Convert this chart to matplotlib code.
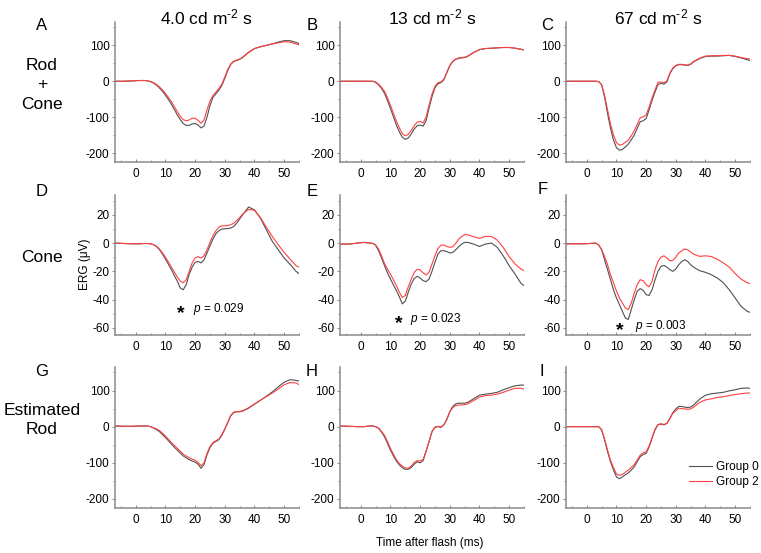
"""ERG waveforms, Group 0 vs Group 2, three flash strengths x three response types."""
import matplotlib

matplotlib.use("Agg")
import matplotlib.pyplot as plt
from matplotlib.ticker import MultipleLocator

plt.rcParams["font.family"] = ["Liberation Sans", "DejaVu Sans"]
plt.rcParams["axes.unicode_minus"] = False
plt.rcParams["mathtext.fontset"] = "custom"
plt.rcParams["mathtext.rm"] = "Liberation Sans"
plt.rcParams["mathtext.it"] = "Liberation Sans:italic"
plt.rcParams["mathtext.bf"] = "Liberation Sans:bold"

# time after flash (ms)
T = [-7, -4, -1, 1, 3, 4, 5, 6, 7, 8, 9, 10, 11, 12, 13, 14, 15, 16, 17, 18, 19, 20,
     21, 22, 23, 24, 25, 26, 27, 28, 29, 30, 31, 32, 33, 34, 35, 36, 38, 40, 42, 44,
     46, 48, 50, 52, 54, 55]

COLUMN_TITLES = ["4.0 cd m$^{\\text{-2}}$ s", "13 cd m$^{\\text{-2}}$ s", "67 cd m$^{\\text{-2}}$ s"]
ROW_LABELS = ["Rod\n+\nCone", "Cone", "Estimated\nRod"]
PANEL_LETTERS = ["A", "B", "C", "D", "E", "F", "G", "H", "I"]
GROUPS = ["Group 0", "Group 2"]

# Rod + Cone (uV)
A_G0 = [0, 0, 1, 2, 2, 1, -1, -5, -11, -19, -28, -39, -51, -64, -79, -94, -107, -118, -123, -123,
        -119, -118, -122, -130, -125, -100, -68, -45, -35, -25, -12, 8, 30, 47, 55, 58, 61, 66,
        80, 91, 96, 100, 104, 109, 113, 113, 108, 105]
A_G2 = [0, 0, 1, 2, 2, 1, -1, -4, -9, -16, -24, -34, -45, -57, -71, -85, -98, -107, -110, -108,
        -103, -103, -109, -117, -108, -80, -55, -40, -30, -20, -8, 12, 33, 48, 56, 59, 62, 67,
        81, 91, 96, 100, 104, 107, 110, 109, 104, 101]
B_G0 = [0, 0, 0, 0, 0, 0, -3, -10, -20, -34, -54, -76, -99, -122, -141, -156, -162, -158, -147, -133,
        -124, -122, -125, -110, -75, -43, -18, -7, -4, 4, 24, 43, 55, 61, 64, 65, 66, 69,
        80, 88, 91, 92, 93, 94, 94, 92, 89, 87]
B_G2 = [0, 0, 0, 0, 0, 0, -2, -8, -17, -28, -46, -67, -89, -111, -130, -146, -152, -148, -137, -124,
        -114, -112, -116, -100, -66, -36, -14, -4, -2, 6, 25, 44, 56, 62, 65, 66, 67, 70,
        80, 88, 91, 92, 93, 94, 94, 92, 89, 87]
C_G0 = [0, 0, 0, 0, 0, -1, -10, -44, -90, -131, -164, -185, -192, -190, -183, -175, -163, -150, -131, -113,
        -110, -104, -80, -53, -30, -9, -6, -8, -2, 21, 35, 43, 46, 46, 45, 44, 47, 54,
        63, 69, 70, 70, 71, 72, 69, 65, 60, 58]
C_G2 = [0, 0, 0, 0, 0, -1, -9, -39, -80, -119, -150, -171, -178, -176, -170, -164, -152, -138, -120, -102,
        -99, -94, -72, -46, -24, -3, -2, -4, 1, 23, 37, 44, 47, 47, 46, 45, 48, 55,
        64, 70, 71, 71, 72, 72, 70, 66, 63, 62]

# Cone (uV)
D_G0 = [0, -0.3, -0.5, -0.5, -0.3, -0.3, -0.5, -1.2, -2.5, -4.7, -7.8, -11.3, -15, -18.8, -23, -27,
        -31.8, -33, -29.4, -22, -17, -13.6, -13, -14, -11.8, -7, -2, 2.8, 6.6, 8.7, 9.9, 10.1,
        10.3, 10.6, 11.8, 14, 17, 20, 25.5, 23.5, 17.6, 9.4, 1.2, -4.7, -10.6, -15, -20, -21.6]
D_G2 = [0, -0.3, -0.5, -0.5, -0.3, -0.3, -0.5, -1.1, -2.3, -4.2, -7, -10, -13.3, -17, -20.5, -24,
        -27, -28, -26, -20, -14, -10.5, -9.6, -10.6, -9, -4.7, 0.5, 5.2, 8.7, 11.3, 12.2, 12.2,
        12.4, 13, 14, 16, 18, 20.5, 23.8, 23.2, 18, 11.3, 4.7, -1.2, -6.6, -11.3, -16, -17]
E_G0 = [-0.7, -0.7, 0, 0.5, 0, -0.2, -1.5, -5.4, -10.5, -16, -21, -25.4, -29.5, -33.6, -38, -43,
        -41, -34.8, -29, -25, -23.5, -24.7, -26.6, -27.3, -25.4, -20, -13.6, -7.8, -5.4, -5.4, -6, -7,
        -6.6, -4.7, -2.6, -0.7, 0.5, 0.5, -0.7, -2.4, -0.7, 0, -3, -9, -16, -22, -28.5, -30]
E_G2 = [-0.7, -0.7, 0, 0.5, 0, -0.2, -1.3, -4.2, -9, -14.4, -18.5, -21.9, -26, -30, -34.8, -38.4,
        -37, -31, -25.4, -20.7, -18.6, -19, -21, -22.6, -20.7, -14.8, -9, -3.8, -1.4, -1.4, -2.4, -3,
        -2.6, -0.2, 2.8, 4.7, 5.9, 5.9, 4.5, 3.3, 4.7, 4.7, 2.1, -3, -9.6, -14.8, -18.4, -19.5]
F_G0 = [-0.5, -0.5, -0.5, -0.3, 0, -1.2, -4.7, -11.8, -18.8, -25.9, -33, -38.8, -43.5, -48.2, -53, -54,
        -47, -40, -34, -32.2, -33.4, -36.5, -37, -33, -26, -20, -16.5, -15.8, -17, -18.8, -20, -18.4,
        -15.3, -13, -11.8, -13, -15.3, -17, -19.5, -20.7, -22.4, -24.7, -28, -33, -38.8, -44.7, -48.2, -49]
F_G2 = [-0.5, -0.5, -0.5, -0.3, 0, -1.2, -4.7, -9.4, -15.3, -22.4, -28, -34, -38.8, -42.4, -45.9, -47,
        -42.4, -35.3, -29.4, -25.9, -26.6, -29.4, -31, -27, -18.8, -13, -9.9, -9, -10.6, -12.5, -12.2, -9.9,
        -7, -5.4, -4.2, -4.7, -6.4, -7.8, -9.4, -9, -9.5, -11.5, -14, -17, -21.5, -25.5, -28, -28.7]

# Estimated rod (uV)
G_G0 = [2, 1, 1, 2, 2, 2, 0, -4, -8, -14, -22, -30, -39, -48, -57, -65, -73, -81, -86, -91,
        -95, -98, -104, -115, -105, -78, -58, -46, -41, -36, -24, -7, 11, 30, 39, 41, 41, 43,
        51, 62, 73, 84, 96, 110, 123, 130, 128, 126]
G_G2 = [2, 1, 1, 2, 2, 2, 0, -3, -6, -11, -18, -26, -35, -44, -52, -60, -68, -76, -81, -86,
        -90, -93, -99, -108, -100, -74, -55, -44, -39, -34, -22, -6, 12, 31, 40, 42, 42, 44,
        52, 63, 73, 83, 93, 104, 116, 122, 121, 116]
H_G0 = [2, 1, 0, 0, 2, 2, 0, -5, -15, -28, -46, -65, -81, -95, -106, -114, -118, -118, -113, -104,
        -97, -100, -94, -69, -42, -14, -2, 0, -2, 5, 20, 42, 56, 63, 65, 65, 65, 67,
        77, 87, 90, 92, 95, 102, 108, 113, 115, 115]
H_G2 = [2, 1, 0, 0, 2, 2, 0, -4, -13, -24, -41, -60, -76, -91, -102, -109, -114, -115, -109, -99,
        -94, -95, -91, -67, -41, -13, -1, 1, -1, 5, 20, 41, 53, 58, 60, 60, 61, 63,
        72, 82, 86, 87, 90, 95, 101, 106, 106, 104]
I_G0 = [0, 0, 0, 0, 0, 0, -9, -37, -69, -97, -120, -139, -144, -139, -133, -128, -120, -111, -97, -83,
        -77, -74, -56, -32, -9, 5, 7, 5, 9, 23, 39, 49, 56, 56, 54, 53, 54, 60,
        76, 87, 91, 93, 95, 99, 102, 106, 107, 106]
I_G2 = [0, 0, 0, 0, 0, 0, -8, -34, -65, -93, -113, -131, -135, -132, -126, -120, -113, -105, -92, -79,
        -72, -70, -53, -30, -7, 6, 8, 6, 9, 22, 37, 44, 51, 50, 49, 48, 49, 54,
        67, 74, 77, 81, 83, 86, 89, 91, 93, 93]

P_VALUES = ["0.029", "0.023", "0.003"]

SERIES = [(A_G0, A_G2), (B_G0, B_G2), (C_G0, C_G2),
          (D_G0, D_G2), (E_G0, E_G2), (F_G0, F_G2),
          (G_G0, G_G2), (H_G0, H_G2), (I_G0, I_G2)]

GRAY = "#505050"
RED = "#ff4040"
SPINE = "#8a8a8a"

W, H = 761, 553
fig = plt.figure(figsize=(W / 100, H / 100), dpi=100)
fig.patch.set_facecolor("white")

col_left = [115, 340, 566]
col_w = 184
row_top = [22, 195, 367]
row_bot = [162, 335, 508]

# where the star / p text goes in each cone panel (data coords)
star_xy = [(15.2, -49.3), (12.9, -56.3), (11.1, -61.2)]
ptext_xy = [(19.3, -46.3), (16.6, -53.8), (16.2, -58.5)]

axes = []
for r in range(3):
    for c in range(3):
        ax = fig.add_axes([col_left[c] / W, 1 - row_bot[r] / H, col_w / W,
                           (row_bot[r] - row_top[r]) / H])
        axes.append(ax)
        g0, g2 = SERIES[r * 3 + c]
        ax.plot(T, g0, color=GRAY, lw=0.8, label=GROUPS[0])
        ax.plot(T, g2, color=RED, lw=0.8, label=GROUPS[1])
        ax.set_xlim(-7, 55)
        ax.xaxis.set_major_locator(MultipleLocator(10))
        ax.xaxis.set_minor_locator(MultipleLocator(5))
        if r == 1:
            ax.set_ylim(-65, 34)
            ax.yaxis.set_major_locator(MultipleLocator(20))
            ax.yaxis.set_minor_locator(MultipleLocator(10))
        else:
            ax.set_ylim(-225, 165)
            ax.yaxis.set_major_locator(MultipleLocator(100))
            ax.yaxis.set_minor_locator(MultipleLocator(50))
        for s in ["top", "right"]:
            ax.spines[s].set_visible(False)
        for s in ["left", "bottom"]:
            ax.spines[s].set_color(SPINE)
            ax.spines[s].set_linewidth(1.1)
        ax.tick_params(axis="y", which="major", direction="out", length=2.5, width=0.7,
                       color=SPINE, labelsize=8.5, pad=1.5)
        ax.tick_params(axis="y", which="minor", direction="out", length=1.5, width=0.6, color=SPINE)
        ax.tick_params(axis="x", which="major", direction="in", length=2.5, width=0.7,
                       color=SPINE, labelsize=8.5, pad=4)
        ax.tick_params(axis="x", which="minor", direction="in", length=1.5, width=0.6, color=SPINE)

        if r == 1:
            sx, sy = star_xy[c]
            ax.text(sx, sy, "$\\mathbf{*}$", fontsize=14, ha="center", va="center")
            px, py = ptext_xy[c]
            ax.text(px, py, "$p$ = " + P_VALUES[c], fontsize=8.5, ha="left", va="center")

# column titles
for c in range(3):
    fig.text((col_left[c] + col_w / 2) / W, 1 - 17 / H, COLUMN_TITLES[c], fontsize=12.5,
             ha="center", va="center")

# panel letters
letter_pos = [(42, 25), (312, 25), (547, 25), (42, 192), (312, 192), (543, 190),
              (42, 372), (312, 372), (542, 371)]
for letter, (x, y) in zip(PANEL_LETTERS, letter_pos):
    fig.text(x / W, 1 - y / H, letter, fontsize=12, ha="center", va="center")

# row labels
row_label_y = [85, 257, 420]
for lab, y in zip(ROW_LABELS, row_label_y):
    fig.text(42 / W, 1 - y / H, lab, fontsize=12.5, ha="center", va="center", linespacing=1.35)

fig.text(85 / W, 1 - 264 / H, "ERG (\u03bcV)", fontsize=8.5, rotation=90, ha="center", va="center")
fig.text(430 / W, 1 - 543 / H, "Time after flash (ms)", fontsize=8.5, ha="center", va="center")

axes[8].legend(loc="lower right", bbox_to_anchor=(759 / W, 1 - 488 / H),
               bbox_transform=fig.transFigure, frameon=False, fontsize=8.5,
               handlelength=1.9, handletextpad=0.4, labelspacing=0.25,
               borderpad=0, borderaxespad=0)

fig.savefig("out.png", dpi=100, facecolor="white")
plt.close(fig)
